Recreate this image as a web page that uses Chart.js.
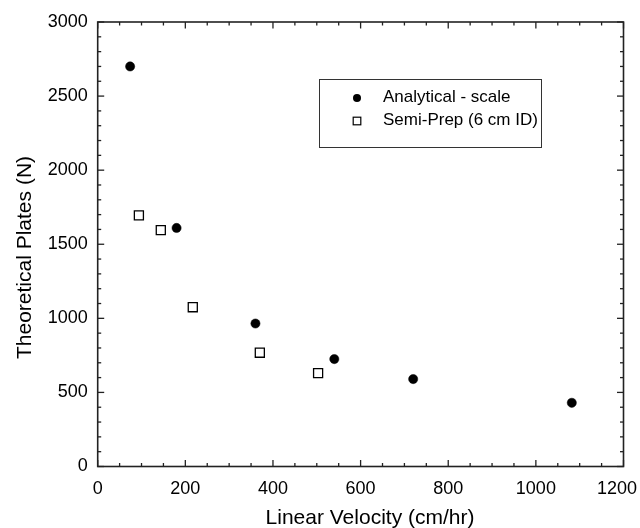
<!DOCTYPE html>
<html><head><meta charset="utf-8">
<style>html,body{margin:0;padding:0;background:#fff;}#wrap{width:640px;height:528px;}</style>
<script src="https://cdn.jsdelivr.net/npm/chart.js@4.4.1/dist/chart.umd.min.js"></script>
</head><body><div id="wrap"><canvas id="c" width="640" height="528"></canvas></div>
<script>
// ---- data ----
const analyticalX = [74, 180, 360, 540, 720, 1082];
const analyticalY = [2700, 1610, 965, 725, 590, 430];
const semiPrepX = [94, 144, 217, 370, 503];
const semiPrepY = [1695, 1595, 1075, 768, 630];
const seriesLabels = ['Analytical - scale', 'Semi-Prep (6 cm ID)'];
const xTickLabels = ['0', '200', '400', '600', '800', '1000', '1200'];
const yTickLabels = ['0', '500', '1000', '1500', '2000', '2500', '3000'];
const xTitle = 'Linear Velocity (cm/hr)';
const yTitle = 'Theoretical Plates (N)';

const FONT = "'Liberation Sans', Arial, Helvetica, sans-serif";
const lastX = xTickLabels[xTickLabels.length - 1];

const framePlugin = {
  id: 'frame',
  afterDraw(chart) {
    const ctx = chart.ctx, xs = chart.scales.x, ys = chart.scales.y;
    const {left, right, top, bottom} = chart.chartArea;
    ctx.save();
    ctx.strokeStyle = '#222';
    ctx.lineWidth = 1.3;
    const line = (a, b, c, d) => { ctx.beginPath(); ctx.moveTo(a, b); ctx.lineTo(c, d); ctx.stroke(); };
    for (let v = xs.min; v <= xs.max + 1e-6; v += 50) {
      const px = xs.getPixelForValue(v);
      const L = Math.abs(v % 200) < 1e-6 ? 6.5 : 3.5;
      line(px, bottom, px, bottom - L);
      line(px, top, px, top + L);
    }
    for (let v = ys.min; v <= ys.max + 1e-6; v += 100) {
      const py = ys.getPixelForValue(v);
      const L = Math.abs(v % 500) < 1e-6 ? 6.5 : 3.5;
      line(left, py, left + L, py);
      line(right, py, right - L, py);
    }
    ctx.lineWidth = 1.6;
    ctx.strokeRect(left, top, right - left, bottom - top);

    // axis titles (text taken from the scale options)
    const tf = chart.options.plugins.axisTitles;
    ctx.fillStyle = '#000';
    ctx.font = tf.size + 'px ' + FONT;
    ctx.textAlign = 'center';
    ctx.textBaseline = 'middle';
    ctx.fillText(xs.options.title.text, tf.xCenter, tf.xMiddle);
    ctx.save();
    ctx.translate(tf.yMiddle, tf.yCenter);
    ctx.rotate(-Math.PI / 2);
    ctx.fillText(ys.options.title.text, 0, 0);
    ctx.restore();

    // legend box
    const lg = chart.options.plugins.boxLegend;
    ctx.lineWidth = 1;
    ctx.strokeStyle = '#333';
    ctx.strokeRect(lg.x + 0.5, lg.y + 0.5, lg.w, lg.h);
    ctx.font = lg.size + 'px ' + FONT;
    ctx.fillStyle = '#000';
    ctx.textBaseline = 'middle';
    ctx.textAlign = 'left';
    chart.data.datasets.forEach((ds, i) => {
      const cy = lg.y + lg.rowY[i];
      const cx = lg.x + lg.markX;
      ctx.save();
      if (ds.pointStyle === 'circle') {
        ctx.fillStyle = '#000';
        ctx.beginPath(); ctx.arc(cx, cy + 1, 4, 0, Math.PI * 2); ctx.fill();
      } else {
        ctx.fillStyle = '#fff'; ctx.strokeStyle = '#000'; ctx.lineWidth = 1.2;
        ctx.fillRect(cx - 3.8, cy - 2.8, 7.6, 7.6);
        ctx.strokeRect(cx - 3.8, cy - 2.8, 7.6, 7.6);
      }
      ctx.restore();
      ctx.fillText(ds.label, lg.x + lg.textX, cy);
    });
    ctx.restore();
  }
};

const tickFont = {family: FONT, size: 18};

new Chart(document.getElementById('c'), {
  type: 'scatter',
  data: {
    datasets: [
      {
        label: seriesLabels[0],
        data: analyticalX.map((x, i) => ({x, y: analyticalY[i]})),
        pointStyle: 'circle', pointRadius: 4.6, backgroundColor: '#000', borderColor: '#000', borderWidth: 0.5
      },
      {
        label: seriesLabels[1],
        data: semiPrepX.map((x, i) => ({x, y: semiPrepY[i]})),
        pointStyle: 'rect', pointRadius: 6.4, backgroundColor: '#fff', borderColor: '#000', borderWidth: 1.3
      }
    ]
  },
  options: {
    responsive: false,
    devicePixelRatio: 1,
    animation: false,
    events: [],
    layout: {padding: {top: 22, right: 16.5, left: 0, bottom: 0}},
    plugins: {
      legend: {display: false},
      tooltip: {enabled: false},
      boxLegend: {x: 319, y: 79, w: 222, h: 68, markX: 38, textX: 64, rowY: [18, 41], size: 17},
      axisTitles: {size: 21, xCenter: 370, xMiddle: 518, yMiddle: 25, yCenter: 257.5}
    },
    scales: {
      x: {
        type: 'linear', min: 0, max: 1200, position: 'bottom', weight: 0,
        grid: {display: false, drawTicks: false},
        border: {display: false},
        ticks: {stepSize: 200, padding: 12, color: '#000', font: tickFont,
          callback: (v) => { const s = String(v); return (s !== lastX && xTickLabels.includes(s)) ? s : ''; }},
        title: {display: false, text: xTitle},
        afterFit: (s) => { s.height = 61.5; s.paddingLeft = 0; s.paddingRight = 0; }
      },
      xEnd: {
        type: 'linear', min: 0, max: 1200, position: 'bottom', weight: -1,
        grid: {display: false, drawTicks: false},
        border: {display: false},
        ticks: {stepSize: 200, padding: -33.6, mirror: true, color: '#000', font: tickFont, labelOffset: -6.5,
          callback: (v) => String(v) === lastX ? lastX : ''},
        afterFit: (s) => { s.height = 0; s.paddingLeft = 0; s.paddingRight = 0; }
      },
      y: {
        type: 'linear', min: 0, max: 3000,
        grid: {display: false, drawTicks: false},
        border: {display: false},
        ticks: {stepSize: 500, padding: 10, color: '#000', font: tickFont,
          callback: (v) => yTickLabels[yTickLabels.indexOf(String(v))] ?? ''},
        title: {display: false, text: yTitle},
        afterFit: (s) => { s.width = 97.7; }
      }
    }
  },
  plugins: [framePlugin]
});
</script></body></html>
